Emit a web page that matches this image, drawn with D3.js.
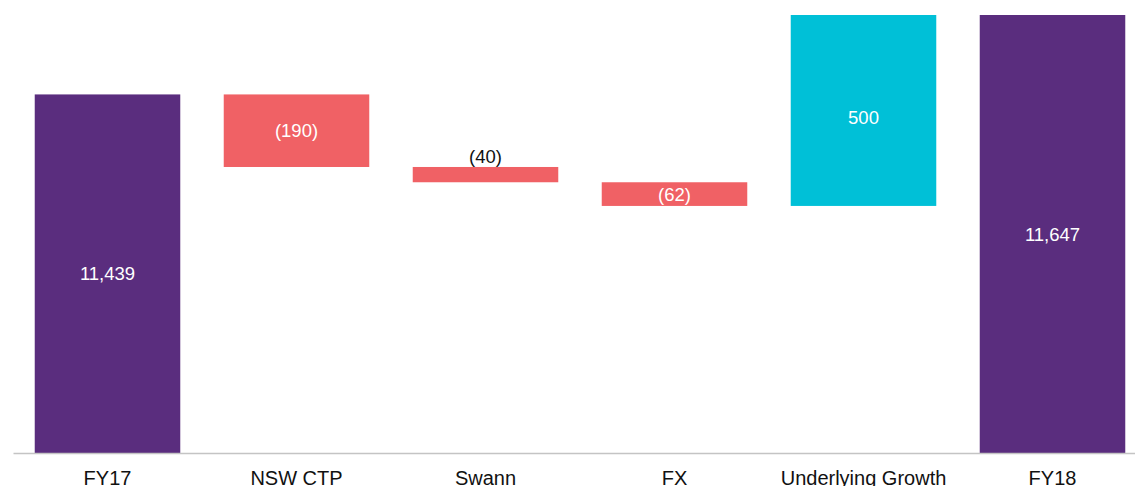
<!DOCTYPE html>
<html>
<head>
<meta charset="utf-8">
<script src="https://cdn.jsdelivr.net/npm/d3@7"></script>
<style>
  html, body { margin: 0; padding: 0; background: #fff; }
  svg { display: block; font-family: "Liberation Sans", Arial, sans-serif; }
</style>
</head>
<body>
<svg id="chart" width="1135" height="486"></svg>
<script>
// Waterfall: FY17 to FY18 bridge
const categories = ["FY17", "NSW CTP", "Swann", "FX", "Underlying Growth", "FY18"];
const values     = [11439, -190, -40, -62, 500, 11647];
const kinds      = ["total", "delta", "delta", "delta", "delta", "total"];
const valueLabels = ["11,439", "(190)", "(40)", "(62)", "500", "11,647"];

const colors = { total: "#5a2d7e", down: "#f06165", up: "#00c0d7" };

const svg = d3.select("#chart");
const baseY = 453;

const x = d3.scaleBand()
  .domain(categories)
  .range([13, 1147])
  .paddingInner(0.23)
  .paddingOuter(0.115);

const y = d3.scaleLinear()
  .domain([10500, 11647])
  .range([baseY, 15]);

// running totals give each bar its start and end
let running = 0;
const bars = categories.map((c, i) => {
  const v = values[i];
  let start, end;
  if (kinds[i] === "total") { start = y.domain()[0]; end = v; running = v; }
  else { start = running; end = running + v; running = end; }
  const kind = kinds[i] === "total" ? "total" : (v < 0 ? "down" : "up");
  return { c, v, start, end, kind, label: valueLabels[i] };
});

svg.append("g")
  .selectAll("rect")
  .data(bars)
  .join("rect")
  .attr("x", d => x(d.c))
  .attr("width", x.bandwidth())
  .attr("y", d => y(Math.max(d.start, d.end)))
  .attr("height", d => Math.abs(y(d.start) - y(d.end)))
  .attr("fill", d => colors[d.kind]);

// value labels: inside the bar in white, above it in black when the bar is too thin
svg.append("g")
  .selectAll("text")
  .data(bars)
  .join("text")
  .attr("x", d => x(d.c) + x.bandwidth() / 2)
  .attr("y", d => {
    const top = y(Math.max(d.start, d.end));
    const h = Math.abs(y(d.start) - y(d.end));
    if (h < 20) return top - 4;
    const mid = top + h / 2;
    return d.kind === "up" ? mid + 7 + 6.5 : mid + 6.5;
  })
  .attr("text-anchor", "middle")
  .attr("font-size", 18.5)
  .attr("fill", d => Math.abs(y(d.start) - y(d.end)) < 20 ? "#111" : "#fff")
  .text(d => d.label);

// category axis
const xAxis = svg.append("g")
  .attr("transform", `translate(0,${baseY})`)
  .call(d3.axisBottom(x).tickSize(0).tickPadding(0).tickSizeOuter(0));

xAxis.select(".domain")
  .attr("stroke", "#c4c4c4")
  .attr("stroke-width", 1.3);

xAxis.selectAll(".tick text")
  .attr("font-size", 20)
  .attr("font-family", "'Liberation Sans', Arial, sans-serif")
  .attr("fill", "#111")
  .attr("dy", null)
  .attr("y", 31.5);
</script>
</body>
</html>
